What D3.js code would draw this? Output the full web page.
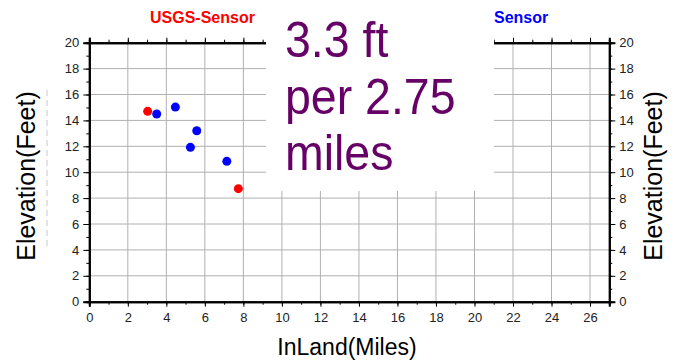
<!DOCTYPE html>
<html><head><meta charset="utf-8">
<script src="https://cdn.jsdelivr.net/npm/d3@7"></script>
<style>body{margin:0;background:#fff}svg{display:block}</style>
</head><body>
<script>
// Data
const usgsX = [3.03, 7.74];
const usgsY = [14.70, 8.73];
const sensorX = [3.50, 4.47, 5.58, 5.25, 7.14];
const sensorY = [14.49, 15.03, 13.20, 11.92, 10.84];
const xTicks = [0,2,4,6,8,10,12,14,16,18,20,22,24,26];
const yTicks = [0,2,4,6,8,10,12,14,16,18,20];
const legendLabels = ["USGS-Sensor", "Sensor"];
const noteLines = ["3.3 ft", "per 2.75", "miles"];

const W = 677, H = 361;
const svg = d3.select("body").append("svg").attr("width", W).attr("height", H);
const x = d3.scaleLinear().domain([0, 27]).range([89.3, 609.3]);
const y = d3.scaleLinear().domain([0, 20]).range([301.7, 42.7]);
const font = "'Liberation Sans', Arial, Helvetica, sans-serif";

// grid
const g = svg.append("g");
g.selectAll(".vg").data(xTicks.slice(1)).enter().append("line")
  .attr("x1", d => x(d)).attr("x2", d => x(d)).attr("y1", y(0)).attr("y2", y(20))
  .attr("stroke", "#b0b0b0").attr("stroke-width", 1);
g.selectAll(".hg").data(yTicks.slice(1)).enter().append("line")
  .attr("x1", x(0)).attr("x2", x(27)).attr("y1", d => y(d)).attr("y2", d => y(d))
  .attr("stroke", "#b0b0b0").attr("stroke-width", 1);

// axes
const minorX = d3.range(0, 28, 1);
const minorY = d3.range(0, 21, 1);
svg.append("g").attr("transform", `translate(0,${y(0)})`)
  .call(d3.axisBottom(x).tickValues(xTicks).tickSize(5).tickPadding(6).tickFormat(d3.format("d")));
svg.append("g").attr("transform", `translate(0,${y(20)})`)
  .call(d3.axisTop(x).tickValues(xTicks).tickSize(5).tickFormat(""));
svg.append("g").attr("transform", `translate(${x(0)},0)`)
  .call(d3.axisLeft(y).tickValues(yTicks).tickSize(6).tickPadding(4).tickFormat(d3.format("d")));
svg.append("g").attr("transform", `translate(${x(27)},0)`)
  .call(d3.axisRight(y).tickValues(yTicks).tickSize(6).tickPadding(4).tickFormat(d3.format("d")));
// minor ticks
svg.append("g").attr("transform", `translate(0,${y(0)})`)
  .call(d3.axisBottom(x).tickValues(minorX).tickSize(3).tickFormat(""));
svg.append("g").attr("transform", `translate(0,${y(20)})`)
  .call(d3.axisTop(x).tickValues(minorX).tickSize(3).tickFormat(""));
svg.append("g").attr("transform", `translate(${x(0)},0)`)
  .call(d3.axisLeft(y).tickValues(minorY).tickSize(3).tickFormat(""));
svg.append("g").attr("transform", `translate(${x(27)},0)`)
  .call(d3.axisRight(y).tickValues(minorY).tickSize(3).tickFormat(""));
svg.selectAll(".domain").attr("stroke", "#000").attr("stroke-width", 2);
svg.selectAll(".tick line").attr("stroke", "#000").attr("stroke-width", 1);
svg.selectAll(".tick text").attr("font-family", font).attr("font-size", 13).attr("fill", "#222");

// points
svg.selectAll(".ps").data(sensorX.map((v, i) => [v, sensorY[i]])).enter().append("circle")
  .attr("cx", d => x(d[0])).attr("cy", d => y(d[1])).attr("r", 4.5).attr("fill", "#0000ff");
svg.selectAll(".pu").data(usgsX.map((v, i) => [v, usgsY[i]])).enter().append("circle")
  .attr("cx", d => x(d[0])).attr("cy", d => y(d[1])).attr("r", 4.5).attr("fill", "#ff0000");

// legend labels
svg.append("text").attr("x", 150).attr("y", 23).attr("font-family", font).attr("font-weight", "bold")
  .attr("font-size", 16).attr("fill", "#ff0000").text(legendLabels[0]);

// white note box
svg.append("rect").attr("x", 266).attr("y", 0).attr("width", 228).attr("height", 191).attr("fill", "#fff");
svg.append("text").attr("x", 494).attr("y", 23).attr("font-family", font).attr("font-weight", "bold")
  .attr("font-size", 16).attr("fill", "#0000ff").text(legendLabels[1]);

// note text
const baselines = [57, 114, 170];
noteLines.forEach((t, i) => {
  svg.append("text").attr("transform", `translate(285,${baselines[i]}) scale(1,1.08)`)
    .attr("font-family", font).attr("font-size", 46.5).attr("fill", "#660066").text(t);
});

// axis titles
svg.append("text").attr("x", 347).attr("y", 355).attr("text-anchor", "middle")
  .attr("font-family", font).attr("font-size", 23).attr("fill", "#000").text("InLand(Miles)");
svg.append("text").attr("transform", "translate(35,176) rotate(-90)").attr("text-anchor", "middle")
  .attr("font-family", font).attr("font-size", 25).attr("fill", "#000").text("Elevation(Feet)");
svg.append("text").attr("transform", "translate(662,176) rotate(-90)").attr("text-anchor", "middle")
  .attr("font-family", font).attr("font-size", 25).attr("fill", "#000").text("Elevation(Feet)");

// faint dashed guide
svg.append("line").attr("x1", 47).attr("x2", 47).attr("y1", 90).attr("y2", 250)
  .attr("stroke", "#c8c8c8").attr("stroke-width", 1).attr("stroke-dasharray", "6,4");
</script>
</body></html>
